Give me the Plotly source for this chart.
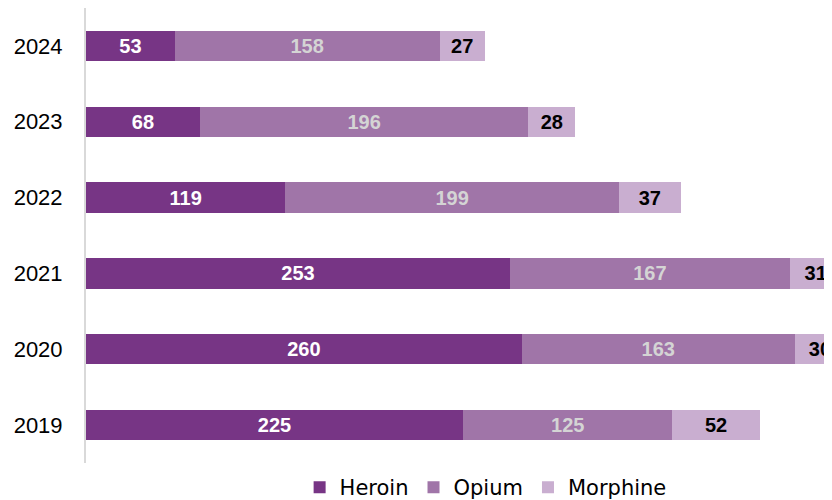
import plotly.graph_objects as go

years = ["2019", "2020", "2021", "2022", "2023", "2024"]
heroin = [225, 260, 253, 119, 68, 53]
opium = [125, 163, 167, 199, 196, 158]
morphine = [52, 30, 31, 37, 28, 27]

colors = {"Heroin": "#773585", "Opium": "#a075a8", "Morphine": "#c9aed0"}
text_colors = {"Heroin": "white", "Opium": "#d4d4d4", "Morphine": "black"}

fig = go.Figure()
for name, vals in [("Heroin", heroin), ("Opium", opium), ("Morphine", morphine)]:
    fig.add_trace(go.Bar(
        y=years, x=vals, name=name, orientation="h",
        marker=dict(color=colors[name], line=dict(width=0)),
        text=vals, textposition="inside", insidetextanchor="middle",
        textfont=dict(family="Liberation Sans", size=20, color=text_colors[name], weight="bold"),
        constraintext="none",
    ))

# page body has 8px margin, so the figure is nudged up/left
fig.update_layout(
    barmode="stack",
    bargap=0.6,
    width=832, height=500,
    margin=dict(l=78, r=0, t=0, b=44),
    plot_bgcolor="white",
    paper_bgcolor="white",
    uniformtext=dict(mode=False),
    xaxis=dict(range=[0, 450], visible=False),
    yaxis=dict(
        showline=True, linecolor="#d9d9d9", linewidth=2,
        showgrid=False, ticks="", ticklabelstandoff=17,
        tickfont=dict(family="Liberation Sans", size=22, color="black"),
    ),
    legend=dict(
        orientation="h", x=0.53, xanchor="center", y=-0.053, yanchor="middle",
        font=dict(family="DejaVu Sans", size=21, color="black"),
        traceorder="normal",
    ),
    showlegend=True,
)

fig.write_html("out.html")
